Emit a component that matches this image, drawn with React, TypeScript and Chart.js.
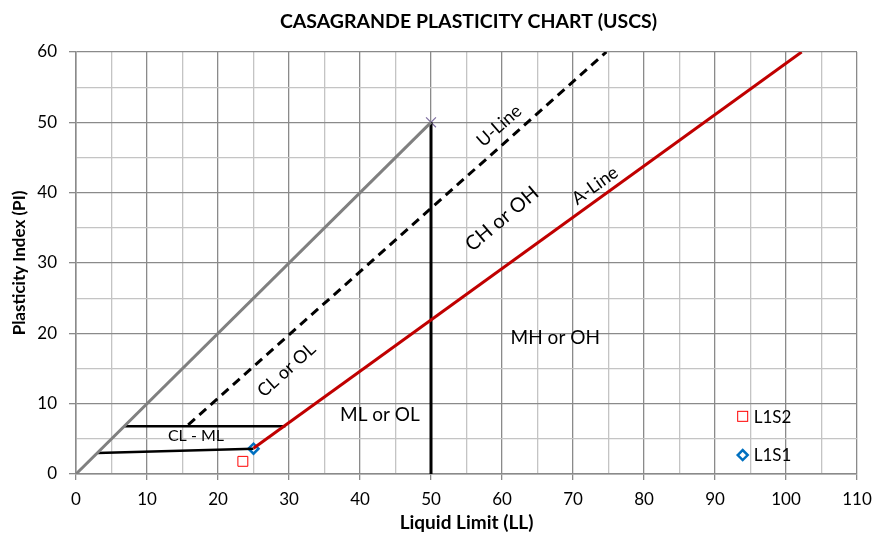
import React, { useEffect, useRef } from "react";
import { Chart, registerables } from "chart.js";

Chart.register(...registerables);

// ---- data ----
const upperLineLL = [0, 50];
const upperLinePI = [0, 50];
const verticalLL = [50, 50];
const verticalPI = [0, 50];
const uLineLL = [15.8, 74.7];
const uLinePI = [7, 60];
const aLineLL = [25, 102.2];
const aLinePI = [3.65, 60];
const clmlUpperLL = [6.8, 29.5];
const clmlUpperPI = [6.8, 6.8];
const clmlLowerLL = [3, 25];
const clmlLowerPI = [3, 3.6];
const crossLL = [50];
const crossPI = [50];
const sampleNames = ["L1S1", "L1S2"];
const sampleLL = [25, 23.5];
const samplePI = [3.6, 1.8];

const xTicks = [0, 10, 20, 30, 40, 50, 60, 70, 80, 90, 100, 110];
const yTicks = [0, 10, 20, 30, 40, 50, 60];

// region labels
const regionText = ["U-Line", "A-Line", "CH or OH", "CL or OL", "CL - ML", "ML or OL", "MH or OH"];
const regionLL = [59.6, 73.1, 60, 29.65, 16.9, 42.8, 67.5];
const regionPI = [49.5, 41, 36.3, 14.8, 5.4, 8.4, 19.3];
const regionAngle = [-41.5, -35.5, -40, -42, 0, 0, 0];
const regionSize = [18, 18, 20, 18, 16, 19, 19];

const FONT = "Lato, 'Open Sans', sans-serif";

const pts = (xs: number[], ys: number[]) => xs.map((x, i) => ({ x, y: ys[i] }));

const overlayPlugin = {
  id: "overlay",
  afterDatasetsDraw(chart: any) {
    const { ctx, chartArea, scales } = chart;
    const xs = scales.x;
    const ys = scales.y;
    ctx.save();
    // title
    ctx.fillStyle = "#000";
    ctx.font = `bold 19.5px ${FONT}`;
    ctx.textAlign = "center";
    ctx.textBaseline = "middle";
    ctx.fillText("CASAGRANDE PLASTICITY CHART (USCS)", (chartArea.left + chartArea.right) / 2 + 2, 22);
    // region labels
    for (let i = 0; i < regionText.length; i++) {
      ctx.save();
      ctx.translate(xs.getPixelForValue(regionLL[i]), ys.getPixelForValue(regionPI[i]));
      ctx.rotate((regionAngle[i] * Math.PI) / 180);
      ctx.font = `${regionSize[i]}px ${FONT}`;
      ctx.fillStyle = "#000";
      ctx.textAlign = "center";
      ctx.textBaseline = "middle";
      ctx.fillText(regionText[i], 0, 0);
      ctx.restore();
    }
    // legend (inside chart area, bottom right)
    const lx = xs.getPixelForValue(93.9);
    const rows = [
      { name: sampleNames[1], y: ys.getPixelForValue(8.2), kind: "rect" },
      { name: sampleNames[0], y: ys.getPixelForValue(2.7), kind: "diamond" },
    ];
    for (const r of rows) {
      if (r.kind === "rect") {
        ctx.strokeStyle = "#FF0000";
        ctx.lineWidth = 1;
        ctx.fillStyle = "#fff";
        ctx.fillRect(lx - 5, r.y - 5, 10, 10);
        ctx.strokeRect(lx - 5, r.y - 5, 10, 10);
      } else {
        ctx.strokeStyle = "#0070C0";
        ctx.lineWidth = 2.5;
        ctx.fillStyle = "#fff";
        ctx.beginPath();
        ctx.moveTo(lx - 5, r.y);
        ctx.lineTo(lx, r.y - 5);
        ctx.lineTo(lx + 5, r.y);
        ctx.lineTo(lx, r.y + 5);
        ctx.closePath();
        ctx.fill();
        ctx.stroke();
      }
      ctx.fillStyle = "#000";
      ctx.font = `17px ${FONT}`;
      ctx.textAlign = "left";
      ctx.textBaseline = "middle";
      ctx.fillText(r.name, lx + 11, r.y + 1);
    }
    ctx.restore();
  },
};

export default function App() {
  const ref = useRef<HTMLCanvasElement>(null);
  useEffect(() => {
    document.body.style.margin = "0";
    const lineDs = (label: string, xs: number[], ys: number[], color: string, extra: any = {}) => ({
      label,
      data: pts(xs, ys),
      showLine: true,
      borderColor: color,
      backgroundColor: color,
      borderWidth: 3,
      pointRadius: 0,
      fill: false,
      ...extra,
    });
    const chart = new Chart(ref.current as HTMLCanvasElement, {
      type: "scatter",
      data: {
        datasets: [
          lineDs("Upper", upperLineLL, upperLinePI, "#808080"),
          lineDs("U-Line", uLineLL, uLinePI, "#000000", { borderDash: [9, 6] }),
          lineDs("A-Line", aLineLL, aLinePI, "#C00000"),
          lineDs("LL50", verticalLL, verticalPI, "#000000"),
          lineDs("CLML upper", clmlUpperLL, clmlUpperPI, "#000000", { borderWidth: 2.5 }),
          lineDs("CLML lower", clmlLowerLL, clmlLowerPI, "#000000", { borderWidth: 2.5 }),
          {
            label: "cross",
            data: pts(crossLL, crossPI),
            pointStyle: "crossRot",
            pointRadius: 7,
            borderColor: "#7F6FA0",
            borderWidth: 1.2,
          },
          {
            label: sampleNames[1],
            data: pts([sampleLL[1]], [samplePI[1]]),
            pointStyle: "rect",
            pointRadius: 7,
            borderColor: "#FF0000",
            backgroundColor: "#ffffff",
            borderWidth: 1,
          },
          {
            label: sampleNames[0],
            data: pts([sampleLL[0]], [samplePI[0]]),
            pointStyle: "rectRot",
            pointRadius: 5,
            borderColor: "#0070C0",
            backgroundColor: "#ffffff",
            borderWidth: 2.5,
          },
        ],
      },
      options: {
        animation: false,
        responsive: true,
        maintainAspectRatio: false,
        layout: { padding: { top: 52, right: 20, left: 0, bottom: 0 } },
        plugins: {
          legend: { display: false },
          title: { display: false },
          tooltip: { enabled: false },
        },
        scales: {
          x: {
            type: "linear",
            min: 0,
            max: 110,
            afterBuildTicks: (s: any) => {
              const t: any[] = [];
              for (let v = 0; v <= 110; v += 5) t.push({ value: v });
              s.ticks = t;
            },
            afterFit: (s: any) => {
              s.height = 61;
              s.paddingRight = 0;
              s.paddingLeft = 0;
            },
            ticks: {
              autoSkip: false,
              maxRotation: 0,
              padding: 9,
              color: "#000",
              font: { family: FONT, size: 17 },
              callback: (v: any) => (xTicks.includes(v) ? String(v) : ""),
            },
            grid: {
              color: (c: any) => (c.tick && c.tick.value % 10 === 0 ? "#8a8a8a" : "#c4c4c4"),
              tickColor: (c: any) => (c.tick && c.tick.value % 10 === 0 ? "#8a8a8a" : "rgba(0,0,0,0)"),
              tickLength: 6,
              lineWidth: 1.3,
            },
            border: { color: "#8a8a8a", width: 1.5 },
            title: {
              display: true,
              text: "Liquid Limit (LL)",
              color: "#000",
              font: { family: FONT, size: 19, weight: "bold" },
              padding: { top: 0, bottom: 1 },
            },
          },
          y: {
            type: "linear",
            min: 0,
            max: 60,
            afterBuildTicks: (s: any) => {
              const t: any[] = [];
              for (let v = 0; v <= 60; v += 5) t.push({ value: v });
              s.ticks = t;
            },
            afterFit: (s: any) => {
              s.width = 76;
            },
            ticks: {
              autoSkip: false,
              padding: 12,
              color: "#000",
              font: { family: FONT, size: 17 },
              callback: (v: any) => (yTicks.includes(v) ? String(v) : ""),
            },
            grid: {
              color: (c: any) => (c.tick && c.tick.value % 10 === 0 ? "#8a8a8a" : "#c4c4c4"),
              tickColor: (c: any) => (c.tick && c.tick.value % 10 === 0 ? "#8a8a8a" : "rgba(0,0,0,0)"),
              tickLength: 7,
              lineWidth: 1.3,
            },
            border: { color: "#8a8a8a", width: 1.5 },
            title: {
              display: true,
              text: "Plasticity Index (PI)",
              color: "#000",
              font: { family: FONT, size: 17, weight: "bold" },
              padding: { top: 9, bottom: 0 },
            },
          },
        },
      },
      plugins: [overlayPlugin],
    } as any);
    return () => chart.destroy();
  }, []);
  return (
    <div style={{ position: "relative", width: 877, height: 535 }}>
      <canvas ref={ref} />
    </div>
  );
}
